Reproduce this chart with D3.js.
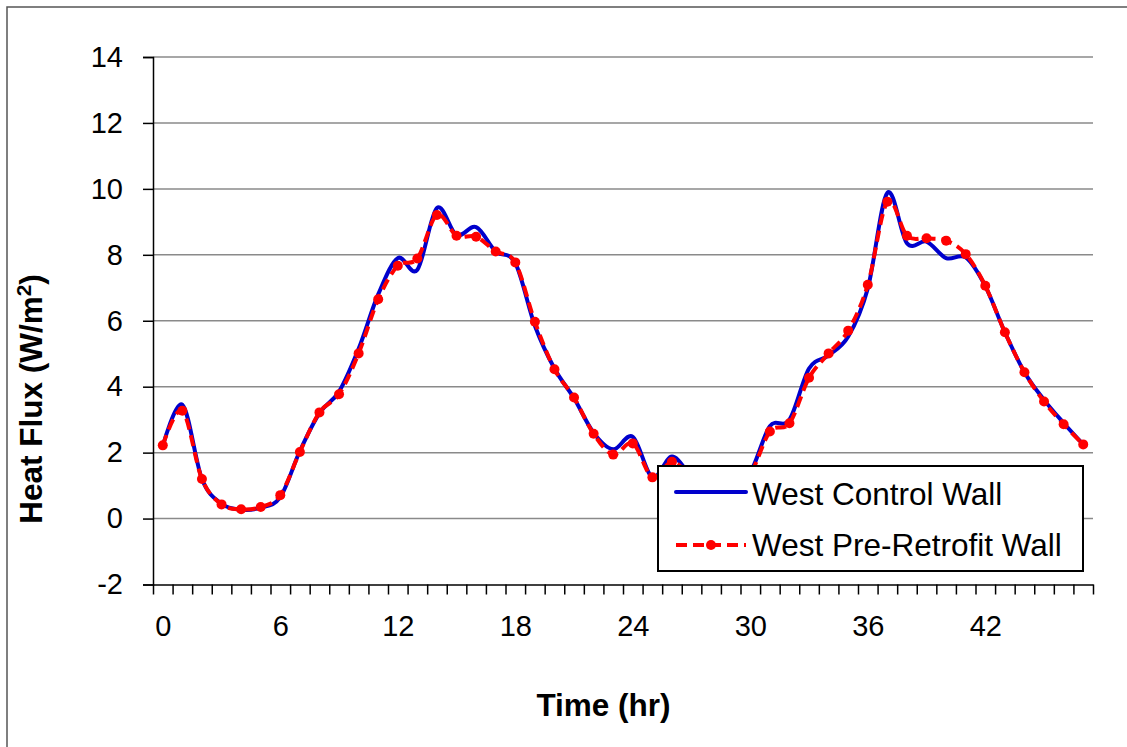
<!DOCTYPE html>
<html>
<head>
<meta charset="utf-8">
<script src="https://cdn.jsdelivr.net/npm/d3@7"></script>
<style>
  html, body { margin: 0; padding: 0; background: #fff; }
  svg { display: block; font-family: "Liberation Sans", Arial, Helvetica, sans-serif; }
</style>
</head>
<body>
<svg id="chart" width="1127" height="747"></svg>
<script>
// ---- data ----
const hours = d3.range(0, 48);
const controlWall = [2.20, 3.45, 1.20, 0.45, 0.27, 0.33, 0.65, 2.05, 3.20, 3.85,
  5.15, 6.80, 7.90, 7.55, 9.42, 8.60, 8.84, 8.10, 7.75, 5.85,
  4.55, 3.65, 2.60, 2.10, 2.48, 1.25, 1.88, 1.30, 1.10, 1.00,
  1.40, 2.80, 3.00, 4.55, 4.95, 5.52, 6.98, 9.88, 8.35, 8.40,
  7.90, 7.92, 7.05, 5.65, 4.44, 3.60, 2.90, 2.25];
const preRetrofitWall = [2.22, 3.27, 1.20, 0.43, 0.28, 0.35, 0.71, 2.02, 3.22, 3.77,
  5.01, 6.65, 7.67, 7.89, 9.21, 8.58, 8.55, 8.10, 7.77, 5.97,
  4.53, 3.67, 2.57, 1.94, 2.28, 1.25, 1.72, 1.30, 1.10, 1.00,
  1.35, 2.64, 2.89, 4.27, 5.01, 5.70, 7.09, 9.61, 8.58, 8.50,
  8.43, 8.02, 7.06, 5.65, 4.44, 3.55, 2.86, 2.25];
const xTickLabels = [0, 6, 12, 18, 24, 30, 36, 42];
const yTicks = [-2, 0, 2, 4, 6, 8, 10, 12, 14];
const seriesNames = ["West Control Wall", "West Pre-Retrofit Wall"];

// ---- layout ----
const svg = d3.select("#chart");
const plotLeft = 153, plotRight = 1093, plotTop = 57, plotBottom = 584.5;

svg.append("rect").attr("width", 1127).attr("height", 747).attr("fill", "#fff");
// outer chart-area border (extends beyond right/bottom edge)
svg.append("rect").attr("x", 7).attr("y", 7).attr("width", 1300).attr("height", 900)
  .attr("fill", "none").attr("stroke", "#555").attr("stroke-width", 1.5);

const x = d3.scaleLinear().domain([-0.5, 47.5]).range([plotLeft, plotRight]);
const y = d3.scaleLinear().domain([-2, 14]).range([plotBottom, plotTop]);

// gridlines
svg.append("g").selectAll("line").data(yTicks.filter(d => d > -2)).join("line")
  .attr("x1", plotLeft).attr("x2", plotRight)
  .attr("y1", d => y(d)).attr("y2", d => y(d))
  .attr("stroke", "#8a8a8a").attr("stroke-width", 1.5);

// y axis
const yAxis = svg.append("g").attr("transform", `translate(${plotLeft},0)`)
  .call(d3.axisLeft(y).tickValues(yTicks).tickSize(10).tickPadding(20).tickFormat(d => String(d)));
yAxis.select(".domain").attr("stroke", "#000").attr("stroke-width", 1.5);
yAxis.selectAll(".tick line").attr("stroke", "#000").attr("stroke-width", 1.5);
yAxis.selectAll(".tick text").attr("font-size", 29).attr("fill", "#000")
  .attr("font-family", "'Liberation Sans', Arial, sans-serif");

// x axis: tick marks between categories
const xAxis = svg.append("g").attr("transform", `translate(0,${plotBottom})`)
  .call(d3.axisBottom(x).tickValues(d3.range(-0.5, 48, 1)).tickSizeInner(10).tickSizeOuter(0).tickFormat(""));
xAxis.select(".domain").attr("stroke", "#000").attr("stroke-width", 1.5);
xAxis.selectAll(".tick line").attr("stroke", "#000").attr("stroke-width", 1.5);

// x labels at category centres
const xLab = svg.append("g").attr("transform", `translate(0,${plotBottom})`)
  .call(d3.axisBottom(x).tickValues(xTickLabels).tickSize(0).tickPadding(31).tickFormat(d => String(d)));
xLab.select(".domain").remove();
xLab.selectAll(".tick text").attr("font-size", 29).attr("fill", "#000")
  .attr("font-family", "'Liberation Sans', Arial, sans-serif");

// axis titles
svg.append("text").attr("x", 603.5).attr("y", 716).attr("text-anchor", "middle")
  .attr("font-size", 31.5).attr("font-weight", "bold").text("Time (hr)");

const yt = svg.append("text").attr("transform", "translate(42,399) rotate(-90)")
  .attr("text-anchor", "middle").attr("font-size", 31.5).attr("font-weight", "bold");
yt.append("tspan").text("Heat Flux (W/m");
yt.append("tspan").attr("font-size", 21).attr("dy", -11).text("2");
yt.append("tspan").attr("dy", 11).text(")");

// lines
const lineGen = d3.line().x((d, i) => x(hours[i])).y(d => y(d)).curve(d3.curveCardinal.tension(0));

svg.append("path").datum(controlWall).attr("d", lineGen)
  .attr("fill", "none").attr("stroke", "#0000CC").attr("stroke-width", 4)
  .attr("stroke-linejoin", "round").attr("stroke-linecap", "round");

svg.append("path").datum(preRetrofitWall).attr("d", lineGen)
  .attr("fill", "none").attr("stroke", "#FF0000").attr("stroke-width", 4)
  .attr("stroke-dasharray", "11,6");

svg.append("g").selectAll("circle").data(preRetrofitWall).join("circle")
  .attr("cx", (d, i) => x(hours[i])).attr("cy", d => y(d)).attr("r", 5)
  .attr("fill", "#FF0000");

// legend
const lg = svg.append("g");
lg.append("rect").attr("x", 658).attr("y", 466).attr("width", 425).attr("height", 105)
  .attr("fill", "#fff").attr("stroke", "#000").attr("stroke-width", 2);
lg.append("line").attr("x1", 676).attr("x2", 746).attr("y1", 492).attr("y2", 492)
  .attr("stroke", "#0000CC").attr("stroke-width", 4).attr("stroke-linecap", "round");
lg.append("line").attr("x1", 676).attr("x2", 746).attr("y1", 545).attr("y2", 545)
  .attr("stroke", "#FF0000").attr("stroke-width", 4).attr("stroke-dasharray", "11,6");
lg.append("circle").attr("cx", 711).attr("cy", 545).attr("r", 5).attr("fill", "#FF0000");
lg.selectAll("text").data(seriesNames).join("text")
  .attr("x", 752).attr("y", (d, i) => i === 0 ? 505 : 556)
  .attr("font-size", 31.5).attr("fill", "#000").text(d => d);
</script>
</body>
</html>
